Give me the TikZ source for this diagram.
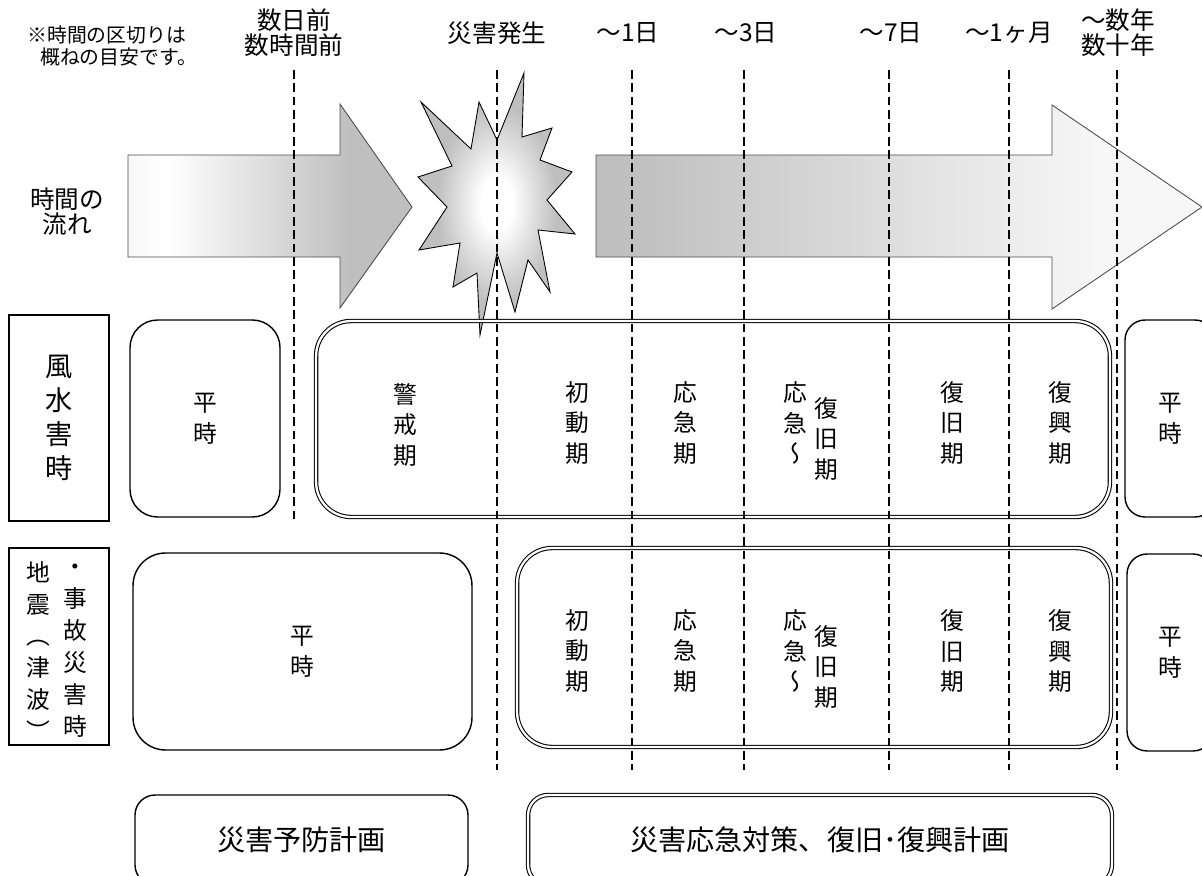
\documentclass[tikz,border=0pt]{standalone}
\usepackage{fontspec}
\setmainfont{Noto Sans CJK JP}
\newfontfamily\tatefont[RawFeature=+vert]{Noto Sans CJK JP}
\usepackage{tikz}
\usetikzlibrary{positioning}

\definecolor{flowgray}{gray}{0.75}
\definecolor{flowpale}{gray}{0.97}
\pgfdeclarehorizontalshading{flowin}{100bp}{color(0bp)=(flowpale); color(25bp)=(flowpale); color(32bp)=(white); color(64bp)=(flowgray); color(100bp)=(flowgray)}
\pgfdeclarehorizontalshading{flowout}{100bp}{color(0bp)=(flowgray); color(28bp)=(flowgray); color(67bp)=(flowpale); color(100bp)=(flowpale)}
\pgfdeclareradialshading{burst}{\pgfpoint{0bp}{0bp}}{color(0bp)=(white); color(5bp)=(white); color(19bp)=(flowgray); color(50bp)=(flowgray)}

\begin{document}
\begin{tikzpicture}
    [x=0.02cm, y=-0.02cm,
    toplabel/.style={align=center, font=\fontsize{14}{14.2}\selectfont},
    tate/.style={align=center, inner sep=2pt, font=\fontsize{13.5}{17.6}\selectfont\tatefont},
    kindbox/.style={draw, line width=1.1pt, minimum width=2cm},
    calmbox/.style={draw, line width=0.8pt, rounded corners=0.55cm, minimum height=3.94cm, tate},
    phasebox/.style={draw, double, double distance=1.3pt, line width=0.6pt, rounded corners=0.7cm},
    planbox/.style={draw, line width=0.8pt, rounded corners=0.4cm, minimum height=1.8cm, font=\fontsize{16}{18}\selectfont},
    guide/.style={line width=1.3pt, dash pattern=on 5pt off 2.6pt},]

    \useasboundingbox (0,0) rectangle (1202,875);

    %Arrows
    \shadedraw[shading=flowin, draw=black!70, line width=0.5pt]
        (128,155) -- (340,155) -- (340,104) -- (412,207) -- (340,308) -- (340,257) -- (128,257) -- cycle;
    \shadedraw[shading=flowout, draw=black!70, line width=0.5pt]
        (596,155) -- (1052,155) -- (1052,105) -- (1202,207) -- (1052,309) -- (1052,257) -- (596,257) -- cycle;

    %Burst
    \shadedraw[shading=burst, line width=0.5pt]
        (524,73) -- (522,137) -- (552,128) -- (540,160) -- (572,172) -- (547,200)
        -- (575,234) -- (538,230) -- (550,292) -- (528,260) -- (515,312) -- (497,253)
        -- (480,335) -- (477,273) -- (453,287) -- (460,243) -- (419,250) -- (447,207)
        -- (418,177) -- (452,166) -- (421,102) -- (471,149) -- (479,102) -- (497,140) -- cycle;

    %Labels
    \node(note)[anchor=west, inner sep=0pt, align=left, font=\fontsize{11.3}{12}\selectfont] at (27,46)
        {※時間の区切りは\\\hspace*{0.65em}概ねの目安です。};
    \node(daysbefore)[toplabel] at (294,33) {数日前\\数時間前};
    \node(onset)[toplabel] at (497,33) {災害発生};
    \node(oneday)[toplabel] at (628,33) {〜1日};
    \node(threedays)[toplabel] at (746,33) {〜3日};
    \node(sevendays)[toplabel] at (891,33) {〜7日};
    \node(onemonth)[toplabel] at (1009,33) {〜1ヶ月};
    \node(years)[toplabel] at (1118,33) {〜数年\\数十年};
    \node(flow)[toplabel] at (67,212) {時間の\\流れ};

    %Wind and flood row
    \node(wind)[kindbox, minimum height=4.12cm, align=center, font=\fontsize{15.5}{19.3}\selectfont] at (59,418) {風\\水\\害\\時};
    \node(windcalm)[calmbox, minimum width=3cm] at (205,418.5) {平\\時};
    \node(windphase)[phasebox, minimum width=15.88cm, minimum height=3.92cm] at (713,419) {};
    \node(windcalmb)[calmbox, rounded corners=0.4cm, minimum width=1.8cm] at (1170,418.5) {平\\時};

    \node(windalert)[tate] at (405,425) {警\\戒\\期};
    \node(windfirst)[tate] at (577,423) {初\\動\\期};
    \node(windurgent)[tate] at (685,423) {応\\急\\期};
    \node(windshift)[tate] at (795,423) {応\\急\\〜};
    \node(windshiftb)[tate, right=0pt of windshift, yshift=-0.32cm] {復\\旧\\期};
    \node(windrestore)[tate] at (952,423) {復\\旧\\期};
    \node(windrevive)[tate] at (1060,423) {復\\興\\期};

    %Earthquake and accident row
    \node(quake)[kindbox, minimum height=3.94cm] at (59,646.5) {};
    \node(quakeleft)[align=center, inner sep=0pt, font=\fontsize{13.5}{18.2}\selectfont\tatefont] at (38,651)
        {地\\震\\（\\津\\波\\）};
    \node(quakeright)[align=center, inner sep=0pt, font=\fontsize{13.5}{18.2}\selectfont\tatefont] at (75,651)
        {・\\事\\故\\災\\害\\時};
    \node(quakecalm)[calmbox, rounded corners=0.65cm, minimum width=6.78cm] at (302.5,651.5) {平\\時};
    \node(quakephase)[phasebox, minimum width=11.88cm, minimum height=3.98cm] at (814,647.5) {};
    \node(quakecalmb)[calmbox, rounded corners=0.4cm, minimum width=1.72cm] at (1170,652.5) {平\\時};

    \node(quakefirst)[tate] at (577,651) {初\\動\\期};
    \node(quakeurgent)[tate] at (685,651) {応\\急\\期};
    \node(quakeshift)[tate] at (795,651) {応\\急\\〜};
    \node(quakeshiftb)[tate, right=0pt of quakeshift, yshift=-0.32cm] {復\\旧\\期};
    \node(quakerestore)[tate] at (952,651) {復\\旧\\期};
    \node(quakerevive)[tate] at (1060,651) {復\\興\\期};

    %Plans
    \node(prevplan)[planbox, minimum width=6.66cm] at (301.5,840) {災害予防計画};
    \node(respplan)[planbox, double, double distance=1.3pt, line width=0.6pt, minimum width=11.68cm] at (820,840) {災害応急対策、復旧･復興計画};

    %Lines
    \draw[guide] (294,70) -- (294,520);
    \foreach \x in {497,632,744,889,1009,1117}
        \draw[guide] (\x,70) -- (\x,770);

\end{tikzpicture}
\end{document}
